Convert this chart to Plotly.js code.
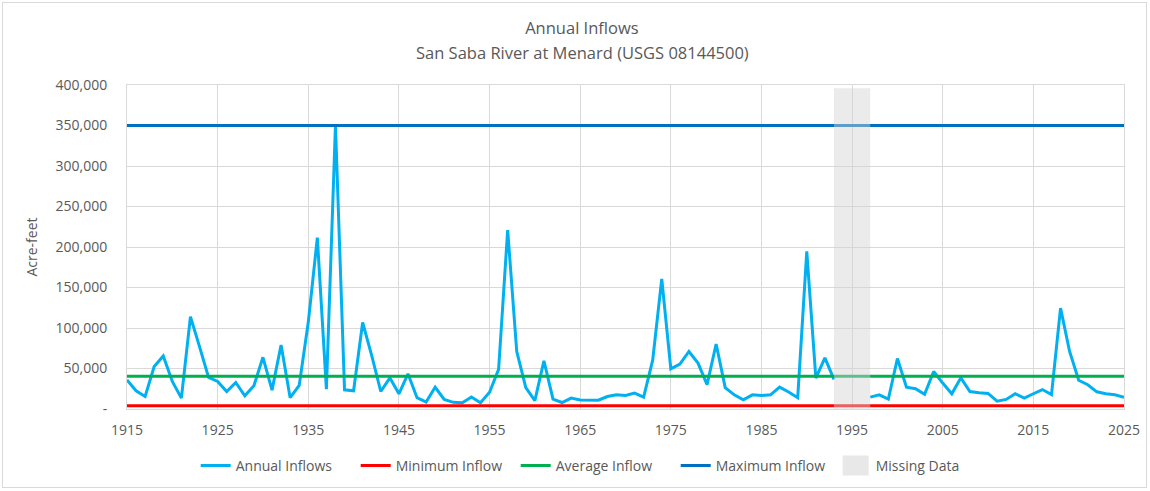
<!DOCTYPE html>
<html>
<head>
<meta charset="utf-8">
<script src="https://cdn.plot.ly/plotly-3.0.1.min.js"></script>
<style>
  html, body { margin: 0; padding: 0; background: #ffffff; }
  #wrap { position: relative; width: 1150px; height: 491px; }
  #chart { width: 1150px; height: 491px; }
  #frame { position: absolute; left: 2px; top: 2px; right: 3px; bottom: 3px; border: 1px solid #d9d9d9; pointer-events: none; }
</style>
</head>
<body>
<div id="wrap"><div id="chart"></div><div id="frame"></div></div>
<script>
// ---- data ----
const years = [];
for (let y = 1915; y <= 2025; y++) years.push(y);

const annualInflows = [
  36000, 22500, 15500, 52500, 65500, 34000, 13400, 114000, 77000, 39000,   // 1915-1924
  34000, 21600, 32700, 16300, 28800, 63800, 23300, 79000, 14000, 29000,    // 1925-1934
  107000, 211500, 24500, 350000, 23700, 22500, 106800, 66000, 21600, 38500,// 1935-1944
  18800, 43500, 14000, 8500, 26800, 11800, 8200, 7600, 14700, 7600,        // 1945-1954
  20600, 49000, 221000, 71000, 26500, 10300, 59500, 12200, 8000, 13400,    // 1955-1964
  11000, 10800, 10800, 15400, 17500, 16700, 19600, 14700, 60300, 160700,   // 1965-1974
  49500, 55400, 71000, 56700, 30000, 80200, 26400, 17500, 11400, 17500,    // 1975-1984
  16700, 17500, 27000, 21000, 14000, 194500, 38000, 63200, 36500, null,    // 1985-1994
  null, null, 14700, 17500, 12200, 62400, 27000, 25000, 18200, 46300,      // 1995-2004
  32000, 18800, 38500, 21600, 20000, 19200, 9600, 11800, 18800, 13400,     // 2005-2014
  18800, 24000, 17800, 124500, 71000, 35500, 30000, 21200, 18800, 17500,   // 2015-2024
  14500                                                                    // 2025
];

const minimumInflow = 4000;
const averageInflow = 40500;
const maximumInflow = 350000;

const missingRange = [1993, 1997];
const missingTop = 396000;

const titleText = 'Annual Inflows';
const subtitleText = 'San Saba River at Menard (USGS 08144500)';

const yTickVals = [0, 50000, 100000, 150000, 200000, 250000, 300000, 350000, 400000];
const yTickText = ['-', '50,000', '100,000', '150,000', '200,000', '250,000', '300,000', '350,000', '400,000'];
const xTickVals = [1915, 1925, 1935, 1945, 1955, 1965, 1975, 1985, 1995, 2005, 2015, 2025];

// ---- styles ----
const FONT = 'Open Sans, Liberation Sans, sans-serif';
const GRAY = '#595959';
const GRID = '#d9d9d9';

const traces = [
  {
    x: years, y: annualInflows, name: 'Annual Inflows', type: 'scatter', mode: 'lines',
    line: { color: '#00B0F0', width: 3 }, connectgaps: false
  },
  {
    x: years, y: years.map(() => minimumInflow), name: 'Minimum Inflow', type: 'scatter', mode: 'lines',
    line: { color: '#FF0000', width: 3 }
  },
  {
    x: years, y: years.map(() => averageInflow), name: 'Average Inflow', type: 'scatter', mode: 'lines',
    line: { color: '#00B050', width: 3 }
  },
  {
    x: years, y: years.map(() => maximumInflow), name: 'Maximum Inflow', type: 'scatter', mode: 'lines',
    line: { color: '#0070C0', width: 3 }
  },
  {
    x: [(missingRange[0] + missingRange[1]) / 2], y: [0], name: 'Missing Data', type: 'bar',
    marker: { color: '#e8e8e8' }
  }
];

const layout = {
  width: 1150, height: 491,
  margin: { l: 127, r: 26, t: 85, b: 82 },
  paper_bgcolor: '#ffffff', plot_bgcolor: '#ffffff',
  font: { family: FONT, color: GRAY, size: 14 },
  title: {
    text: titleText,
    font: { family: FONT, size: 16.5, color: GRAY },
    x: 0.506, xref: 'container', xanchor: 'center',
    y: 1 - 28 / 491, yref: 'container', yanchor: 'middle'
  },
  annotations: [
    {
      text: subtitleText, showarrow: false,
      xref: 'paper', yref: 'paper',
      x: (582 - 127) / 997, y: (409 - 52) / 324, xanchor: 'center', yanchor: 'middle',
      font: { family: FONT, size: 16.5, color: GRAY }
    }
  ],
  showlegend: true,
  legend: {
    orientation: 'h', xref: 'container', x: 0.518, xanchor: 'center',
    yref: 'container', y: 1 - 466 / 491, yanchor: 'middle',
    font: { family: FONT, size: 14, color: GRAY },
    traceorder: 'normal', bgcolor: 'rgba(0,0,0,0)',
    entrywidth: 115, entrywidthmode: 'pixels'
  },
  xaxis: {
    range: [1915, 2025], tickvals: xTickVals, ticktext: xTickVals.map(String),
    showgrid: true, gridcolor: GRID, gridwidth: 1,
    showline: true, linecolor: GRID, linewidth: 1, mirror: true,
    zeroline: false, ticks: '', ticklabelstandoff: 8,
    tickfont: { family: FONT, size: 14, color: GRAY }
  },
  yaxis: {
    range: [0, 400000], tickvals: yTickVals, ticktext: yTickText,
    showgrid: true, gridcolor: GRID, gridwidth: 1,
    showline: true, linecolor: GRID, linewidth: 1, mirror: true,
    zeroline: false, ticks: '', ticklabelstandoff: 16,
    tickfont: { family: FONT, size: 14, color: GRAY },
    title: { text: 'Acre-feet', font: { family: FONT, size: 14, color: GRAY }, standoff: 14 }
  },
  shapes: [
    {
      type: 'rect', xref: 'x', yref: 'y', layer: 'above',
      x0: missingRange[0], x1: missingRange[1], y0: 0, y1: missingTop,
      fillcolor: 'rgba(210,210,210,0.45)', line: { width: 0 }
    }
  ]
};

Plotly.newPlot('chart', traces, layout, { displayModeBar: false, staticPlot: true }).then(function (gd) {
  // enlarge the legend swatch of the "Missing Data" entry to a grey box
  gd.querySelectorAll('.legend .traces').forEach(function (t) {
    const txt = t.querySelector('.legendtext');
    if (txt && txt.textContent === 'Missing Data') {
      t.querySelectorAll('.legendpoints path').forEach(function (p) {
        p.setAttribute('d', 'M13,10H-13V-10H13Z');
      });
    }
  });
});
</script>
</body>
</html>
